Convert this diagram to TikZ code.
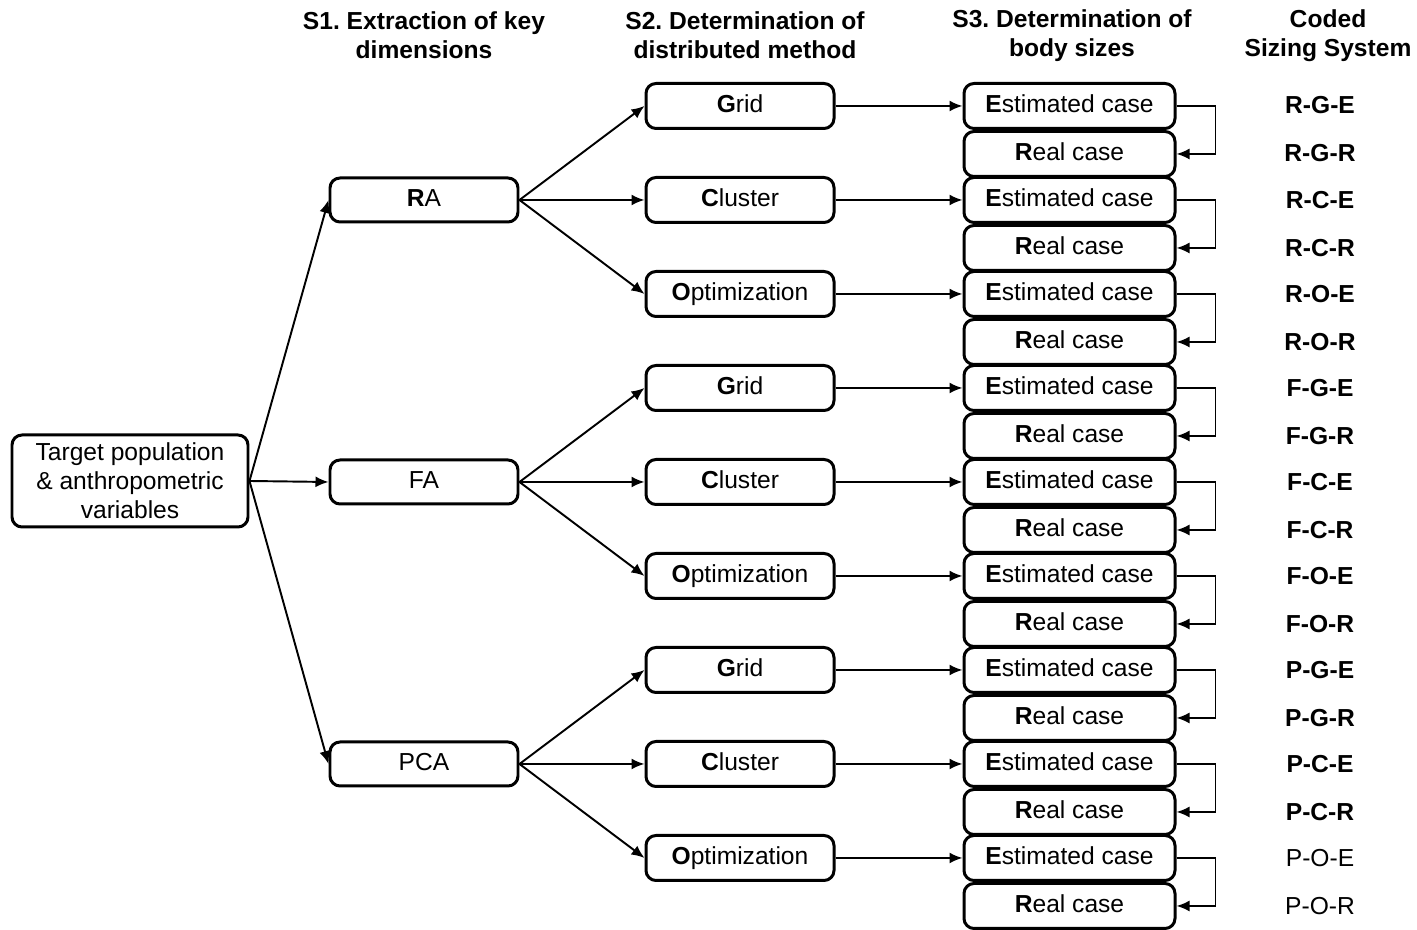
\documentclass[tikz,border=0pt]{standalone}
\usepackage{fontspec}
\setmainfont{Liberation Sans}
\usetikzlibrary{arrows.meta}
\frenchspacing

\begin{document}
\begin{tikzpicture}[
    box/.style={rectangle, rounded corners=0.2cm, draw, line width=1.7pt, minimum height=0.9cm, inner sep=0pt, font=\fontsize{14}{16.5}\selectfont},
    s1box/.style={box, minimum width=3.76cm, minimum height=0.88cm, text height=1.6ex, text depth=0.25ex},
    s2box/.style={box, minimum width=3.76cm, text height=1.6ex, text depth=0.25ex},
    s3box/.style={box, minimum width=4.22cm, text height=1.6ex, text depth=0.25ex},
    head/.style={align=center, font=\fontsize{14}{16.5}\selectfont\bfseries},
    code/.style={font=\fontsize{14}{16.5}\selectfont\bfseries},
    plaincode/.style={font=\fontsize{14}{16.5}\selectfont},
    link/.style={line width=1.1pt, -{Latex[length=2.6mm, width=2.2mm]}}
]
\useasboundingbox (0,0) rectangle (28.34,18.6);

% Column headings
\node[head] (h1) at (8.48,17.89) {S1. Extraction of key\\dimensions};
\node[head] (h2) at (14.9,17.89) {S2. Determination of\\distributed method};
\node[head] (h3) at (21.44,17.89) {S3. Determination of\\body sizes};
\node[head] (h4) at (26.56,17.89) {Coded\\Sizing System};

% Starting point
\node[box, minimum width=4.72cm, minimum height=1.84cm, align=center] (target) at (2.6,8.98)
    {Target population\\\& anthropometric\\variables};

% S1: key dimension extraction
\node[s1box] (ra) at (8.48,14.6) {\textbf{R}A};
\node[s1box] (fa) at (8.48,8.96) {FA};
\node[s1box] (pca) at (8.48,3.32) {PCA};

% S2 and S3 for each branch
\foreach \a/\y in {ra/14.6, fa/8.96, pca/3.32} {
    \draw[link] (target.east) -- (\a.west);
    \foreach \m/\lbl/\dy in {grid/{\textbf{G}rid}/1.88, clu/{\textbf{C}luster}/0, opt/{\textbf{O}ptimization}/-1.88} {
        \node[s2box] (\a-\m) at (14.8,\y+\dy) {\lbl};
        \node[s3box] (\a-\m-e) at (21.39,\y+\dy) {\textbf{E}stimated case};
        \node[s3box] (\a-\m-r) at (21.39,\y+\dy-0.96) {\textbf{R}eal case};
        \draw[link] (\a.east) -- (\a-\m.west);
        \draw[link] (\a-\m.east) -- (\a-\m-e.west);
        \draw[link] (\a-\m-e.east) -- ++(0.78,0) |- (\a-\m-r.east);
    }
}

% Sizing system codes
\foreach \t/\y/\w in {R-G-E/16.5/code, R-G-R/15.54/code, R-C-E/14.6/code, R-C-R/13.64/code,
    R-O-E/12.72/code, R-O-R/11.76/code, F-G-E/10.84/code, F-G-R/9.88/code,
    F-C-E/8.96/code, F-C-R/8.0/code, F-O-E/7.08/code, F-O-R/6.12/code,
    P-G-E/5.2/code, P-G-R/4.24/code, P-C-E/3.32/code, P-C-R/2.36/code,
    P-O-E/1.44/plaincode, P-O-R/0.48/plaincode} {
    \node[\w] (c-\t) at (26.4,\y) {\t};
}
\end{tikzpicture}
\end{document}
